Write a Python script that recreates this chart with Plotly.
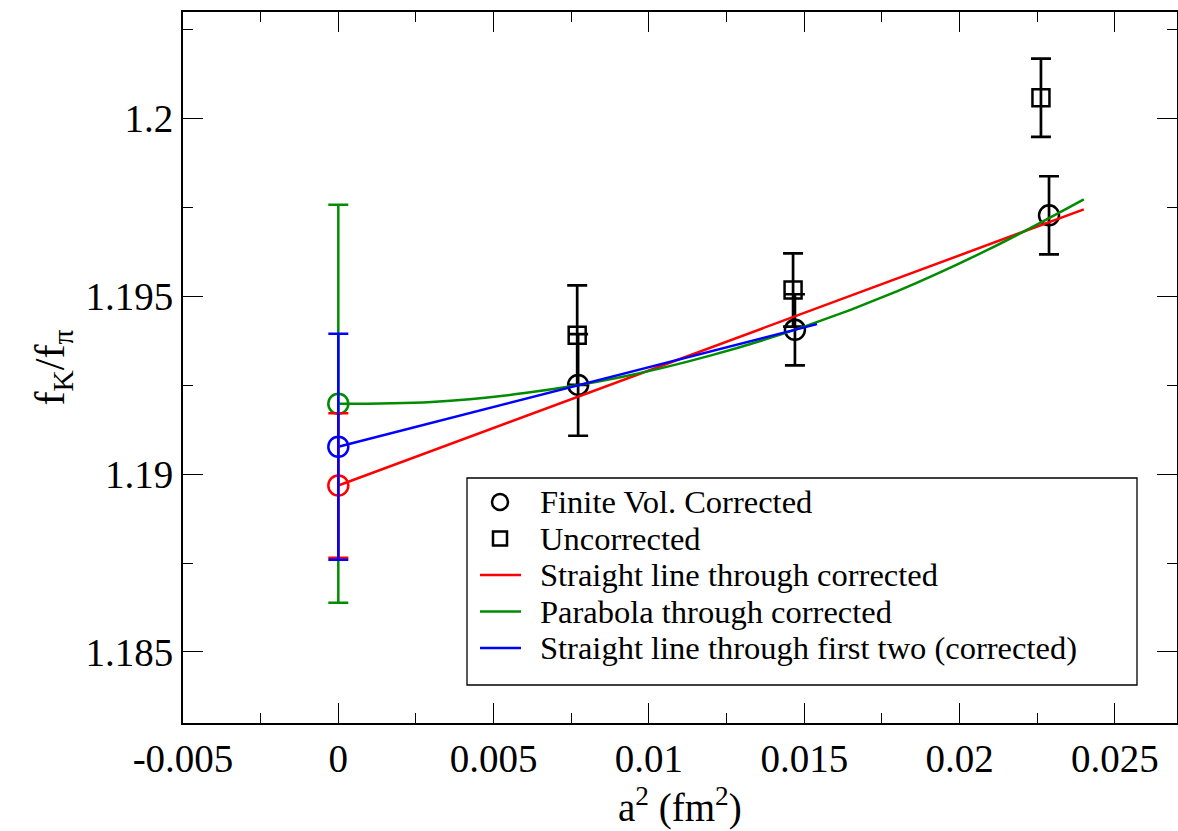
import plotly.graph_objects as go

# Lattice data: f_K/f_pi vs a^2
a2_corr = [0.00772, 0.0147, 0.02288]
fkfpi_corr = [1.19251, 1.19406, 1.19728]
err_corr = [0.00143, 0.00100, 0.00110]

a2_uncorr = [0.00769, 0.01464, 0.02262]
fkfpi_uncorr = [1.19391, 1.19518, 1.20059]
err_uncorr = [0.00140, 0.00103, 0.00110]

# Continuum extrapolations (value at a^2 = 0 and its error)
extrap_red = 1.18968
extrap_red_err = 0.00203
extrap_green = 1.19198
extrap_green_err = 0.00560
extrap_blue = 1.19077
extrap_blue_err = 0.00318

# Fit curves
red_x = [0.0, 0.0240]
red_y = [1.18968, 1.19745]
blue_x = [0.0, 0.01541]
blue_y = [1.19077, 1.19422]
green_x = [0.0, 0.003, 0.006, 0.009, 0.012, 0.015, 0.018, 0.021, 0.024]
green_y = [1.19198, 1.19203, 1.19228, 1.19271, 1.19334, 1.19415, 1.19515, 1.19635, 1.19773]

x_tickvals = [-0.005, 0.0, 0.005, 0.01, 0.015, 0.02, 0.025]
x_ticktext = ["-0.005", "0", "0.005", "0.01", "0.015", "0.02", "0.025"]
y_tickvals = [1.185, 1.19, 1.195, 1.2]
y_ticktext = ["1.185", "1.19", "1.195", "1.2"]

x_title = "a<sup>2</sup> (fm<sup>2</sup>)"
y_title = "f<sub>K</sub>/f<sub>π</sub>"

legend_labels = [
    "Finite Vol. Corrected",
    "Uncorrected",
    "Straight line through corrected",
    "Parabola through corrected",
    "Straight line through first two (corrected)",
]

FONT = "Liberation Serif, Times New Roman, Times, serif"
RED = "#ff0000"
GREEN = "#008b00"
BLUE = "#0000ff"

W, H = 1178, 831
ML, MR, MT, MB = 183, 1, 12, 108
PW, PH = W - ML - MR, H - MT - MB


def px_x(p):
    return (p - ML) / PW


def px_y(p):
    return (H - MB - p) / PH


fig = go.Figure()

# measured points
fig.add_trace(go.Scatter(
    x=a2_uncorr, y=fkfpi_uncorr, mode="markers", name=legend_labels[1], showlegend=False,
    marker=dict(symbol="square-open", size=17, color="black", line=dict(width=2.5, color="black")),
    error_y=dict(type="data", array=err_uncorr, color="black", thickness=2.7, width=10),
))
fig.add_trace(go.Scatter(
    x=a2_corr, y=fkfpi_corr, mode="markers", name=legend_labels[0], showlegend=False,
    marker=dict(symbol="circle-open", size=20, color="black", line=dict(width=2.5, color="black")),
    error_y=dict(type="data", array=err_corr, color="black", thickness=2.7, width=10),
))

# fit curves
fig.add_trace(go.Scatter(
    x=red_x, y=red_y, mode="lines", name=legend_labels[2], showlegend=False,
    line=dict(color=RED, width=2.5),
))
fig.add_trace(go.Scatter(
    x=green_x, y=green_y, mode="lines", name=legend_labels[3], showlegend=False,
    line=dict(color=GREEN, width=2.5, shape="spline"),
))
fig.add_trace(go.Scatter(
    x=blue_x, y=blue_y, mode="lines", name=legend_labels[4], showlegend=False,
    line=dict(color=BLUE, width=2.5),
))

# extrapolated values at a^2 = 0
for val, err, col in [(extrap_green, extrap_green_err, GREEN),
                      (extrap_red, extrap_red_err, RED),
                      (extrap_blue, extrap_blue_err, BLUE)]:
    fig.add_trace(go.Scatter(
        x=[0.0], y=[val], mode="markers", showlegend=False,
        marker=dict(symbol="circle-open", size=20, color=col, line=dict(width=2.5, color=col)),
        error_y=dict(type="data", array=[err], color=col, thickness=2.5, width=10),
    ))

# legend box, drawn by hand in paper coordinates
shapes = [dict(type="rect", xref="paper", yref="paper",
               x0=px_x(467), x1=px_x(1137), y0=px_y(685), y1=px_y(478),
               line=dict(color="black", width=1.3), fillcolor="white", layer="above")]
row_y = [502, 538.5, 575, 611.5, 648]
sym_x = 500
# circle / square symbols
shapes.append(dict(type="circle", xref="paper", yref="paper",
                   x0=px_x(sym_x - 8), x1=px_x(sym_x + 8),
                   y0=px_y(row_y[0] + 8), y1=px_y(row_y[0] - 8),
                   line=dict(color="black", width=2.5)))
shapes.append(dict(type="rect", xref="paper", yref="paper",
                   x0=px_x(sym_x - 7), x1=px_x(sym_x + 7),
                   y0=px_y(row_y[1] + 7), y1=px_y(row_y[1] - 7),
                   line=dict(color="black", width=2.5)))
for ry, col in zip(row_y[2:], [RED, GREEN, BLUE]):
    shapes.append(dict(type="line", xref="paper", yref="paper",
                       x0=px_x(480), x1=px_x(521), y0=px_y(ry), y1=px_y(ry),
                       line=dict(color=col, width=2.5)))

annotations = [
    dict(text=lab, xref="paper", yref="paper", x=px_x(539), y=px_y(ry),
         xanchor="left", yanchor="middle", showarrow=False, borderpad=0,
         font=dict(family=FONT, size=32.5, color="black"))
    for lab, ry in zip(legend_labels, row_y)
]

# x-axis title placed below the tick labels
annotations.append(dict(
    text=x_title, xref="paper", yref="paper", x=0.5, y=px_y(831),
    xanchor="center", yanchor="bottom", showarrow=False, borderpad=0,
    font=dict(family=FONT, size=39, color="black"),
))

axis_common = dict(
    showline=True, linecolor="black", linewidth=2, mirror="allticks",
    ticks="inside", ticklen=20, tickwidth=1.3, tickcolor="black",
    showgrid=False, zeroline=False,
    tickfont=dict(family=FONT, size=39, color="black"),
)

fig.update_xaxes(
    range=[-0.005, 0.027], tickmode="array", tickvals=x_tickvals, ticktext=x_ticktext,
    minor=dict(dtick=0.0025, tick0=0, ticks="inside", ticklen=10, tickwidth=1.3, tickcolor="black"),
    **axis_common,
)
fig.update_yaxes(
    range=[1.183, 1.203], tickmode="array", tickvals=y_tickvals, ticktext=y_ticktext,
    minor=dict(dtick=0.0025, tick0=1.185, ticks="inside", ticklen=10, tickwidth=1.3, tickcolor="black"),
    title=dict(text=y_title, font=dict(family=FONT, size=42, color="black"), standoff=8),
    **axis_common,
)

fig.update_layout(
    width=W, height=H,
    margin=dict(l=ML, r=MR, t=MT, b=MB, autoexpand=False),
    plot_bgcolor="white", paper_bgcolor="white",
    font=dict(family=FONT, color="black"),
    showlegend=False,
    shapes=shapes,
    annotations=annotations,
)

fig.write_html("out.html")
